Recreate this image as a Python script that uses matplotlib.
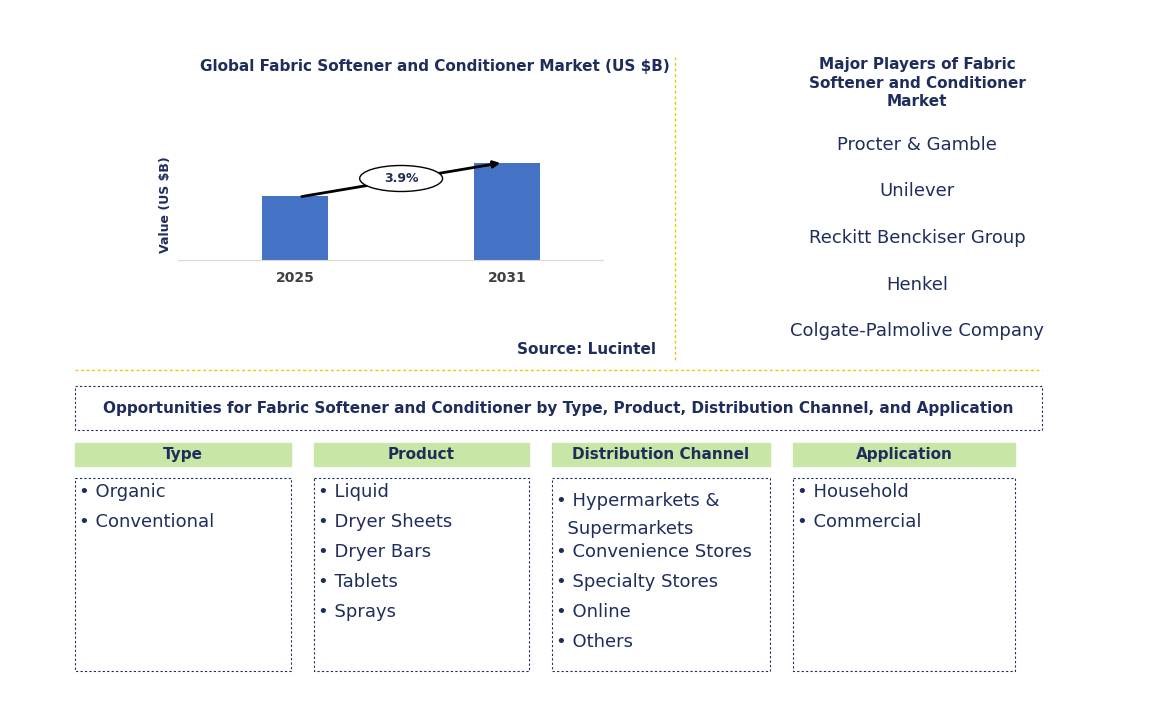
import matplotlib.pyplot as plt
from matplotlib.patches import Rectangle, Ellipse

years = ["2025", "2031"]
values = [6.4, 9.7]
cagr = "3.9%"
players = ["Procter & Gamble", "Unilever", "Reckitt Benckiser Group", "Henkel",
           "Colgate-Palmolive Company"]
segments = ["Type", "Product", "Distribution Channel", "Application"]
segment_items = [
    ["Organic", "Conventional"],
    ["Liquid", "Dryer Sheets", "Dryer Bars", "Tablets", "Sprays"],
    ["Hypermarkets &\n  Supermarkets", "Convenience Stores", "Specialty Stores", "Online", "Others"],
    ["Household", "Commercial"],
]

navy = "#1F2D5C"
W, H = 1170, 712
fig = plt.figure(figsize=(W / 100, H / 100), dpi=100)
bg = fig.add_axes([0, 0, 1, 1])
bg.set_xlim(0, W)
bg.set_ylim(H, 0)
bg.axis("off")

# bar chart
ax = fig.add_axes([178 / W, 1 - 260 / H, (603 - 178) / W, 110 / H])
x = [0, 1]
ax.bar(x, values, width=0.31, color="#4472C4")
ax.set_xlim(-0.55, 1.45)
ax.set_ylim(0, 11)
ax.set_xticks(x)
ax.set_xticklabels(years, fontsize=10, fontweight="bold", color="#404040")
ax.tick_params(length=0, pad=8)
ax.set_yticks([])
for s in ["top", "right", "left"]:
    ax.spines[s].set_visible(False)
ax.spines["bottom"].set_color("#D9D9D9")
ax.set_ylabel("Value (US $B)", fontsize=9, fontweight="bold", color=navy)
ax.annotate("", xy=(1 - 0.02, values[1] + 0.05), xytext=(0.02, values[0] - 0.1),
            arrowprops=dict(arrowstyle="-|>", color="black", lw=2))
ax.add_patch(Ellipse((0.5, (values[0] + values[1]) / 2 + 0.1), 0.39, 2.6,
                     facecolor="white", edgecolor="black", lw=1, zorder=3))
ax.text(0.5, (values[0] + values[1]) / 2 + 0.1, cagr, ha="center", va="center",
        fontsize=9, fontweight="bold", color=navy, zorder=4)

bg.text(435, 67, "Global Fabric Softener and Conditioner Market (US $B)", ha="center",
        va="center", fontsize=11, fontweight="bold", color=navy)
bg.text(656, 350, "Source: Lucintel", ha="right", va="center", fontsize=11,
        fontweight="bold", color=navy)

# separators
gold = "#F2C200"
bg.plot([675, 675], [57, 362], color=gold, lw=1, ls=(0, (2, 2)))
bg.plot([75, 1042], [370, 370], color=gold, lw=1, ls=(0, (2, 2)))

# players
bg.text(917, 83, "Major Players of Fabric\nSoftener and Conditioner\nMarket", ha="center",
        va="center", fontsize=11, fontweight="bold", color=navy, linespacing=1.3)
for i, p in enumerate(players):
    bg.text(917, 145 + i * 46.5, p, ha="center", va="center", fontsize=13, color=navy)

# opportunities
bg.add_patch(Rectangle((75, 386), 967, 44, fill=False, ec=navy, lw=0.8, ls=(0, (2, 2))))
bg.text(558, 408, "Opportunities for Fabric Softener and Conditioner by Type, Product, "
        "Distribution Channel, and Application", ha="center", va="center",
        fontsize=11, fontweight="bold", color=navy)

cols = [(75, 291), (314, 529), (552, 770), (793, 1015)]
for (x0, x1), seg, items in zip(cols, segments, segment_items):
    bg.add_patch(Rectangle((x0, 443), x1 - x0, 23, color="#C8E6A5"))
    bg.text((x0 + x1) / 2, 454.5, seg, ha="center", va="center", fontsize=11,
            fontweight="bold", color=navy)
    bg.add_patch(Rectangle((x0, 478), x1 - x0, 193, fill=False, ec=navy, lw=0.8,
                           ls=(0, (2, 2))))
    y = 492
    for it in items:
        bg.text(x0 + 4, y, "• " + it, ha="left", va="top" if "\n" in it else "center",
                fontsize=13, color=navy, linespacing=1.75)
        if "\n" in it:
            pass
        y += 60 if "\n" in it else 30
# fix: multi-line item placement handled via va; adjust top-aligned text offset
fig.savefig("out.png", dpi=100)
